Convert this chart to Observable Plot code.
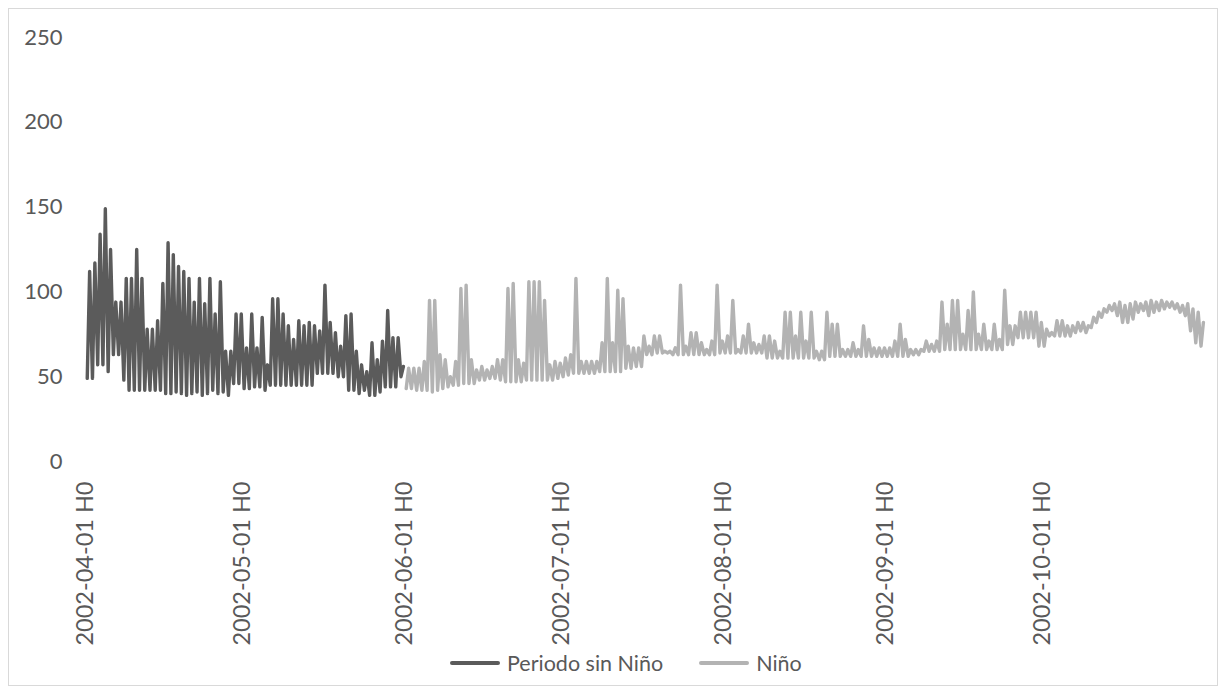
<!DOCTYPE html>
<html>
<head>
<meta charset="utf-8">
<script src="https://cdn.jsdelivr.net/npm/d3@7"></script>
<script src="https://cdn.jsdelivr.net/npm/@observablehq/plot@0.6"></script>
<style>
  html, body { margin: 0; padding: 0; background: #ffffff; }
  #frame { position: relative; width: 1227px; height: 694px; overflow: hidden; font-family: Lato, "Open Sans", sans-serif; }
  #border { position: absolute; left: 8px; top: 8px; width: 1210px; height: 678px; border: 1px solid #d9d9d9; box-sizing: border-box; }
  #chart { position: absolute; left: 0; top: 0; }
  #legend { position: absolute; left: 450px; top: 650px; display: flex; align-items: center; font-size: 21.5px; color: #595959; white-space: nowrap; }
  .swatch { display: inline-block; width: 50px; height: 4px; border-radius: 2px; margin-right: 7px; }
  .item { display: flex; align-items: center; margin-right: 36px; }
</style>
</head>
<body>
<div id="frame">
  <div id="border"></div>
  <div id="chart"></div>
  <div id="legend"></div>
</div>
<script>
// Hourly series, summarised per day as the trough (morning) and the peak (evening).
const firstDay = "2002-04-01";
const lowHour = 8;
const highHour = 19;

// Periodo sin Niño: 2002-04-01 .. 2002-05-31
const sinNinoLow = [
  49, 49, 57, 57, 53, 63, 63, 48, 42, 42,
  42, 42, 42, 42, 42, 40, 40, 41, 40, 39,
  40, 41, 39, 40, 42, 40, 41, 39, 46, 46,
  43, 43, 44, 44, 42, 45, 45, 45, 45, 45,
  45, 45, 45, 45, 52, 52, 52, 52, 50, 50,
  42, 42, 40, 42, 39, 39, 41, 44, 44, 44,
  50
];
const sinNinoHigh = [
  112, 117, 134, 149, 125, 94, 94, 108, 108, 125,
  108, 78, 78, 83, 105, 129, 122, 115, 112, 108,
  94, 108, 93, 108, 87, 106, 65, 65, 87, 87,
  67, 87, 67, 85, 57, 96, 96, 87, 80, 72,
  83, 80, 82, 80, 77, 104, 82, 76, 68, 86,
  87, 65, 57, 53, 70, 60, 71, 89, 73, 73,
  56
];

// Niño: 2002-06-01 .. 2002-10-31 (starts 61 days after firstDay)
const ninoStartOffset = 61;
const ninoLow = [
  43, 43, 42, 42, 42, 41, 42, 43, 44, 45,
  45, 46, 46, 46, 48, 48, 49, 49, 48, 47,
  47, 47, 47, 48, 48, 48, 48, 48, 48, 49,
  50, 51, 52, 52, 52, 52, 52, 53, 53, 53,
  53, 53, 55, 55, 56, 56, 63, 63, 64, 64,
  64, 63, 63, 63, 63, 63, 63, 63, 63, 63,
  64, 64, 64, 64, 64, 64, 64, 64, 64, 61,
  61, 61, 61, 61, 61, 61, 61, 61, 61, 60,
  60, 62, 62, 62, 62, 62, 62, 62, 62, 62,
  62, 62, 62, 62, 62, 62, 62, 63, 63, 65,
  65, 65, 65, 66, 66, 66, 66, 66, 66, 66,
  66, 66, 66, 66, 66, 69, 69, 73, 73, 73,
  73, 68, 68, 74, 74, 74, 74, 74, 76, 77,
  76, 79, 82, 85, 88, 89, 86, 82, 82, 84,
  88, 89, 86, 88, 89, 90, 91, 90, 88, 86,
  77, 70, 68
];
const ninoHigh = [
  55, 55, 55, 59, 95, 95, 63, 60, 50, 59,
  102, 104, 60, 54, 56, 54, 56, 60, 60, 102,
  105, 60, 58, 106, 106, 106, 95, 57, 59, 58,
  61, 63, 108, 59, 59, 59, 59, 70, 108, 70,
  101, 96, 68, 67, 67, 74, 68, 74, 74, 65,
  65, 67, 104, 68, 76, 76, 70, 66, 71, 104,
  71, 74, 95, 66, 74, 81, 70, 69, 74, 74,
  71, 65, 88, 88, 74, 88, 71, 88, 65, 65,
  88, 81, 81, 66, 66, 70, 66, 80, 72, 67,
  67, 67, 67, 71, 81, 72, 66, 66, 66, 71,
  69, 71, 94, 81, 95, 95, 75, 89, 100, 75,
  81, 71, 81, 72, 101, 80, 80, 88, 88, 88,
  88, 82, 78, 76, 83, 83, 80, 80, 82, 82,
  80, 85, 88, 90, 92, 93, 94, 92, 93, 94,
  93, 94, 95, 94, 95, 94, 94, 93, 92, 93,
  90, 88, 82
];

const yTicks = [0, 50, 100, 150, 200, 250];
const monthTicks = ["2002-04-01", "2002-05-01", "2002-06-01", "2002-07-01", "2002-08-01", "2002-09-01", "2002-10-01"];
const xDomain = ["2002-04-01", "2002-11-01"];

const seriesNames = ["Periodo sin Niño", "Niño"];
const seriesColors = ["#5b5b5b", "#b3b3b3"];

const parseDay = d3.utcParse("%Y-%m-%d");
const fmtDay = d3.utcFormat("%Y-%m-%d");
const day0 = parseDay(firstDay);

// Expand the daily trough/peak pairs into a time-ordered point list.
function expand(lows, highs, offset, name) {
  const pts = [];
  lows.forEach((lo, i) => {
    const day = d3.utcDay.offset(day0, offset + i);
    pts.push({time: d3.utcHour.offset(day, lowHour), value: lo, series: name});
    pts.push({time: d3.utcHour.offset(day, highHour), value: highs[i], series: name});
  });
  return pts;
}

const sinNino = expand(sinNinoLow, sinNinoHigh, 0, seriesNames[0]);
const nino = expand(ninoLow, ninoHigh, ninoStartOffset, seriesNames[1]);

const chart = Plot.plot({
  width: 1227,
  height: 650,
  marginTop: 37,
  marginBottom: 189,
  marginLeft: 85,
  marginRight: 23,
  style: {fontFamily: "Lato, 'Open Sans', sans-serif", fontSize: "21px", color: "#595959", background: "transparent", overflow: "visible"},
  x: {type: "utc", domain: xDomain.map(parseDay)},
  y: {domain: [0, 250]},
  marks: [
    Plot.axisY({ticks: yTicks, tickSize: 0, tickPadding: 23, label: null, fontSize: 22}),
    Plot.axisX({ticks: monthTicks.map(parseDay), tickFormat: d => `${fmtDay(d)} H0`, tickRotate: -90, tickSize: 0, tickPadding: 20, label: null, fontSize: 23.5}),
    Plot.lineY(sinNino, {x: "time", y: "value", stroke: seriesColors[0], strokeWidth: 3.4, strokeLinejoin: "round", strokeLinecap: "round"}),
    Plot.lineY(nino, {x: "time", y: "value", stroke: seriesColors[1], strokeWidth: 3.4, strokeLinejoin: "round", strokeLinecap: "round"})
  ]
});
document.getElementById("chart").appendChild(chart);

const legend = document.getElementById("legend");
seriesNames.forEach((name, i) => {
  const item = document.createElement("span");
  item.className = "item";
  const sw = document.createElement("span");
  sw.className = "swatch";
  sw.style.background = seriesColors[i];
  const label = document.createElement("span");
  label.textContent = name;
  item.appendChild(sw);
  item.appendChild(label);
  legend.appendChild(item);
});
</script>
</body>
</html>
